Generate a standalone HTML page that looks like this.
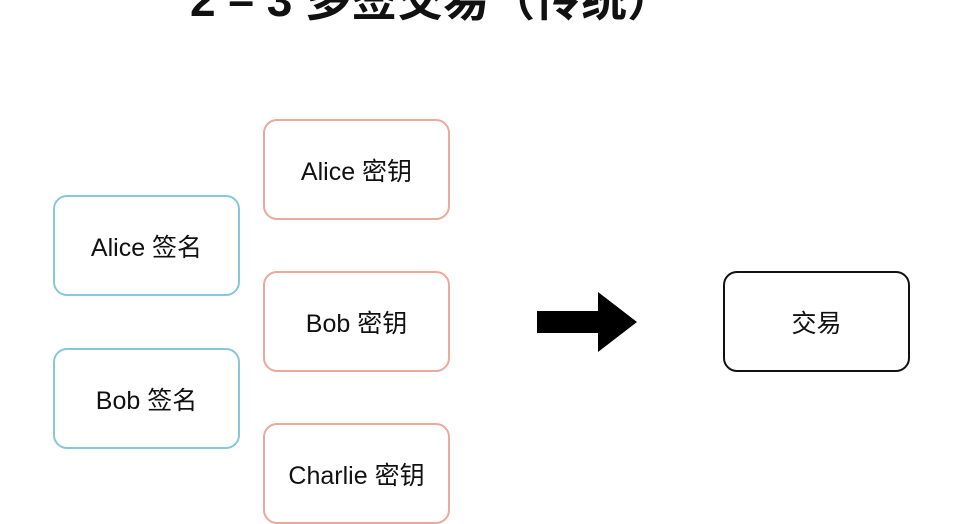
<!DOCTYPE html>
<html><head><meta charset="utf-8"><style>
body{margin:0;width:960px;height:504px;overflow:hidden;background:#fff;position:relative;font-family:"Liberation Sans","Noto Sans CJK SC",sans-serif;}
.b{position:absolute;box-sizing:border-box;width:187px;height:101px;border:2px solid;border-radius:14px;display:flex;align-items:center;justify-content:center;font-size:25px;color:#111;}
.r{border-color:#eba99c}.u{border-color:#86c7da}.k{border-color:#111}
.t{position:absolute;left:190px;top:-36px;font-size:46px;font-weight:bold;color:#111;white-space:nowrap;letter-spacing:0px}
</style></head><body>
<div class="t">2 – 3 多签交易（传统）</div>
<div class="b r" style="left:263px;top:119px">Alice 密钥</div>
<div class="b u" style="left:53px;top:195px">Alice 签名</div>
<div class="b r" style="left:263px;top:271px">Bob 密钥</div>
<div class="b u" style="left:53px;top:348px">Bob 签名</div>
<div class="b r" style="left:263px;top:423px">Charlie 密钥</div>
<div class="b k" style="left:723px;top:271px">交易</div>
<svg style="position:absolute;left:0;top:0" width="960" height="504"><polygon points="537,311 598,311 598,292 637,322 598,352 598,333 537,333" fill="#000"/></svg>
</body></html>
